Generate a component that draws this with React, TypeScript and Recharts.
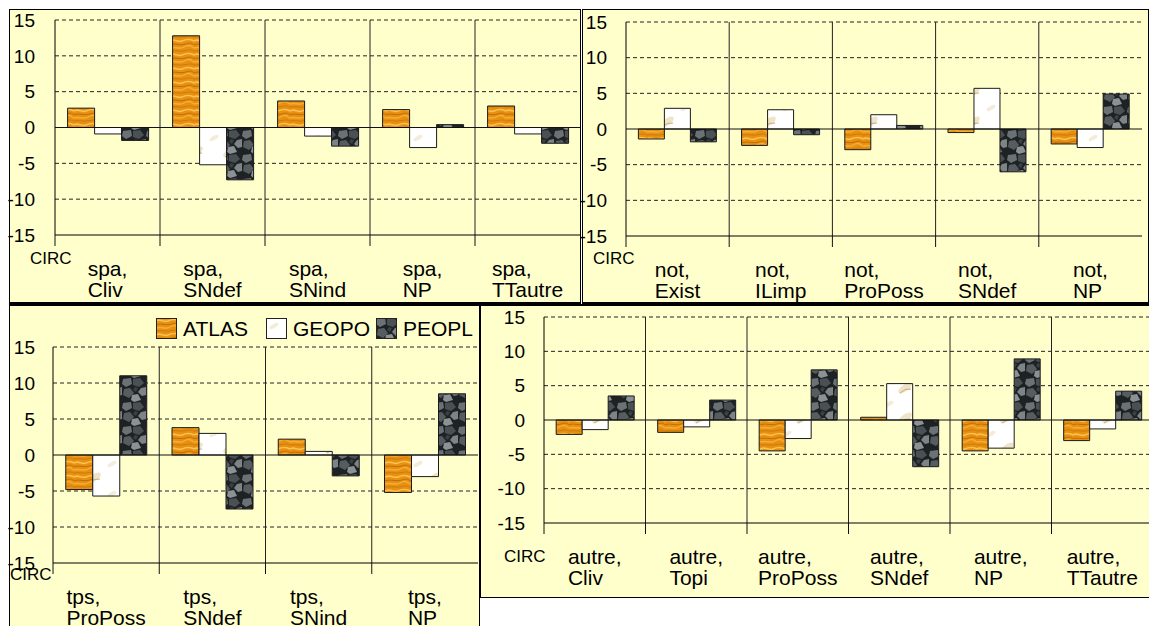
import { Bar, BarChart, CartesianGrid, Legend, ReferenceLine, XAxis, YAxis } from 'recharts';

// --- data ---
const SERIES = ['ATLAS', 'GEOPO', 'PEOPL'];
const Y_TICKS = [-15, -10, -5, 0, 5, 10, 15];
const GRID_VALUES = [15, 10, 5, -5, -10];

const spaCats = ['spa, Cliv', 'spa, SNdef', 'spa, SNind', 'spa, NP', 'spa, TTautre'];
const spaAtlas = [2.7, 12.8, 3.7, 2.5, 3.0];
const spaGeopo = [-0.9, -5.2, -1.2, -2.8, -0.9];
const spaPeopl = [-1.8, -7.3, -2.6, 0.4, -2.2];

const notCats = ['not, Exist', 'not, ILimp', 'not, ProPoss', 'not, SNdef', 'not, NP'];
const notAtlas = [-1.4, -2.3, -2.9, -0.5, -2.1];
const notGeopo = [2.9, 2.7, 2.0, 5.7, -2.6];
const notPeopl = [-1.8, -0.8, 0.5, -6.0, 4.9];

const tpsCats = ['tps, ProPoss', 'tps, SNdef', 'tps, SNind', 'tps, NP'];
const tpsAtlas = [-4.8, 3.8, 2.2, -5.2];
const tpsGeopo = [-5.7, 3.0, 0.5, -3.0];
const tpsPeopl = [11.0, -7.5, -2.9, 8.5];

const autreCats = ['autre, Cliv', 'autre, Topi', 'autre, ProPoss', 'autre, SNdef', 'autre, NP', 'autre, TTautre'];
const autreAtlas = [-2.1, -1.8, -4.5, 0.4, -4.5, -3.0];
const autreGeopo = [-1.4, -1.0, -2.7, 5.3, -4.1, -1.3];
const autrePeopl = [3.5, 2.9, 7.3, -6.8, 8.9, 4.2];

const FONT = '"Liberation Sans", Arial, sans-serif';
const BG = '#ffffcc';
const PAD = 8; // room left of the y labels so nothing gets clipped
const TEX: Record<string, string> = { ATLAS: 'url(#tex-atlas)', GEOPO: 'url(#tex-geopo)', PEOPL: 'url(#tex-peopl)' };

let ctx: CanvasRenderingContext2D | null = null;
const textWidth = (s: string) => {
  if (!ctx) ctx = document.createElement('canvas').getContext('2d');
  if (!ctx) return s.length * 11;
  ctx.font = `21px ${FONT}`;
  return ctx.measureText(s).width;
};

const toRows = (cats: string[], a: number[], g: number[], p: number[]) =>
  cats.map((cat, i) => ({ cat, ATLAS: a[i], GEOPO: g[i], PEOPL: p[i] }));

// fill textures for the three series (orange wood, white marble, dark stones)
const Textures = () => (
  <svg width={0} height={0} style={{ position: 'absolute' }}>
    <defs>
      <pattern id='tex-atlas' patternUnits='userSpaceOnUse' width={24} height={14}>
        <rect width={24} height={14} fill='#e8900f' />
        <path d='M0 3 C4 0 8 5 12 3 S20 1 24 3' stroke='#fbc04f' strokeWidth={1.6} fill='none' />
        <path d='M0 10 C5 8 9 12 14 9 S21 8 24 10' stroke='#f5ae38' strokeWidth={1.4} fill='none' />
        <path d='M0 6.5 C6 5 10 8 16 6 S22 6 24 6.5' stroke='#b5650a' strokeWidth={0.8} fill='none' />
        <path d='M0 13 C6 12 10 14 16 12.5 S22 13 24 13' stroke='#c06f0c' strokeWidth={0.7} fill='none' />
      </pattern>
      <pattern id='tex-geopo' patternUnits='userSpaceOnUse' width={34} height={30}>
        <rect width={34} height={30} fill='#ffffff' />
        <ellipse cx={24} cy={22} rx={8} ry={3.5} fill='#efe4c8' transform='rotate(-35 24 22)' />
        <ellipse cx={8} cy={8} rx={5} ry={2} fill='#f4ecd8' transform='rotate(-30 8 8)' />
        <path d='M19 27 Q24 22 30 23' stroke='#c9aa74' strokeWidth={1} fill='none' />
      </pattern>
      <pattern id='tex-peopl' patternUnits='userSpaceOnUse' width={24} height={24}>
        <rect width={24} height={24} fill='#1f2223' />
        <polygon points='1,1 9,0 10,6 4,9 0,6' fill='#6a7276' />
        <polygon points='11,1 18,0 22,5 17,9 11,7' fill='#4a5154' />
        <polygon points='19,10 24,9 24,17 20,18 16,14' fill='#7c8488' />
        <polygon points='2,11 8,10 12,15 7,20 1,17' fill='#565d61' />
        <polygon points='10,17 16,16 19,22 12,24 9,22' fill='#8a9296' />
        <polygon points='13,9 16,10 14,14 11,12' fill='#3a4044' />
      </pattern>
    </defs>
  </svg>
);

const CategoryTick = ({ x, y, payload, step }: any) => {
  const [head, tail] = String(payload.value).split(', ');
  const l1 = `${head},`;
  const w = Math.max(textWidth(l1), textWidth(tail));
  const left = x - w / 2;
  const bx = x - step / 2;
  return (
    <g>
      <line x1={bx} x2={bx} y1={y} y2={y + 11} stroke='#111' />
      <text x={left} y={y + 41} fontSize={21} fontFamily={FONT} fill='#000'>{l1}</text>
      <text x={left} y={y + 62} fontSize={21} fontFamily={FONT} fill='#000'>{tail}</text>
    </g>
  );
};

const LegendBox = () => (
  <div style={{ display: 'flex', fontFamily: FONT, fontSize: 21, lineHeight: '20px' }}>
    {SERIES.map((s) => (
      <div key={s} style={{ width: 110, display: 'flex', alignItems: 'center' }}>
        <svg width={21} height={21} style={{ marginRight: 6 }}>
          <rect x={0.5} y={0.5} width={20} height={20} fill={TEX[s]} stroke='#222' />
        </svg>
        <span>{s}</span>
      </div>
    ))}
  </div>
);

interface PanelProps {
  cats: string[];
  atlas: number[];
  geopo: number[];
  peopl: number[];
  box: { left: number; top: number; width: number; height: number };
  chart: { width: number; height: number; top: number; right: number; yWidth: number; xHeight: number; tickGap: number };
  circ: { x: number; y: number };
  borders: React.CSSProperties;
  legend?: boolean;
}

const Panel = ({ cats, atlas, geopo, peopl, box, chart, circ, borders, legend }: PanelProps) => {
  const data = toRows(cats, atlas, geopo, peopl);
  const plotW = chart.width - chart.yWidth - chart.right;
  const step = plotW / cats.length;
  return (
    <div
      style={{
        position: 'absolute',
        boxSizing: 'border-box',
        background: BG,
        border: '1px solid #000',
        ...borders,
        ...box,
      }}
    >
      <div style={{ position: 'absolute', left: -PAD, top: 0 }}>
        <BarChart
          width={chart.width + PAD}
          height={chart.height}
          data={data}
          margin={{ top: chart.top, right: chart.right, bottom: 0, left: 0 }}
          barCategoryGap='12%'
          barGap={0}
        >
          {/* dashed lines only between the solid zero line and solid axis */}
          <CartesianGrid
            vertical={false}
            stroke='#222'
            strokeDasharray='4 3'
            horizontalCoordinatesGenerator={({ offset }: any) =>
              GRID_VALUES.map((v) => offset.top + ((15 - v) / 30) * offset.height)
            }
          />
          <CartesianGrid
            horizontal={false}
            stroke='#222'
            verticalCoordinatesGenerator={({ offset }: any) =>
              cats.slice(1).map((_, i) => offset.left + (i + 1) * (offset.width / cats.length))
            }
          />
          <ReferenceLine y={0} stroke='#111' />
          <XAxis
            dataKey='cat'
            height={chart.xHeight}
            interval={0}
            tickSize={0}
            tickMargin={0}
            tickLine={false}
            axisLine={{ stroke: '#000' }}
            tick={<CategoryTick step={step} />}
          />
          <YAxis
            width={chart.yWidth + PAD}
            domain={[-15, 15]}
            ticks={Y_TICKS}
            interval={0}
            tickLine={false}
            tickSize={0}
            tickMargin={chart.tickGap}
            axisLine={{ stroke: '#000' }}
            tick={{ fill: '#000', fontSize: 19, fontFamily: FONT }}
          />
          {SERIES.map((s) => (
            <Bar key={s} dataKey={s} name={s} fill={TEX[s]} stroke='#1a1a1a' strokeWidth={1} isAnimationActive={false} />
          ))}
          {legend && (
            <Legend
              layout='horizontal'
              verticalAlign='middle'
              align='center'
              content={<LegendBox />}
              wrapperStyle={{ left: 146 + PAD, top: 12, width: 340 }}
            />
          )}
        </BarChart>
      </div>
      <span
        style={{
          position: 'absolute',
          left: circ.x,
          top: circ.y - 15,
          fontFamily: FONT,
          fontSize: 17,
          lineHeight: '17px',
          color: '#000',
        }}
      >
        CIRC
      </span>
    </div>
  );
};

export default function App() {
  return (
    <div style={{ position: 'absolute', left: 0, top: 0, width: 1149, height: 626, overflow: 'hidden', background: '#fff' }}>
      <Textures />
      <Panel
        cats={spaCats}
        atlas={spaAtlas}
        geopo={spaGeopo}
        peopl={spaPeopl}
        box={{ left: 9, top: 9, width: 572, height: 295 }}
        borders={{ borderBottomWidth: 2 }}
        chart={{ width: 570, height: 292, top: 10, right: 0, yWidth: 45, xHeight: 67, tickGap: 20 }}
        circ={{ x: 20, y: 255 }}
      />
      <Panel
        cats={notCats}
        atlas={notAtlas}
        geopo={notGeopo}
        peopl={notPeopl}
        box={{ left: 582, top: 9, width: 567, height: 295 }}
        borders={{ borderBottomWidth: 2 }}
        chart={{ width: 565, height: 292, top: 12, right: 6, yWidth: 43, xHeight: 66, tickGap: 19 }}
        circ={{ x: 10, y: 255 }}
      />
      <Panel
        cats={tpsCats}
        atlas={tpsAtlas}
        geopo={tpsGeopo}
        peopl={tpsPeopl}
        box={{ left: 9, top: 304, width: 471, height: 330 }}
        borders={{ borderTopWidth: 2 }}
        chart={{ width: 469, height: 320, top: 41, right: 1, yWidth: 43, xHeight: 63, tickGap: 18 }}
        circ={{ x: 0, y: 275 }}
        legend
      />
      <Panel
        cats={autreCats}
        atlas={autreAtlas}
        geopo={autreGeopo}
        peopl={autrePeopl}
        box={{ left: 480, top: 304, width: 690, height: 294 }}
        borders={{ borderTopWidth: 2 }}
        chart={{ width: 688, height: 291, top: 11, right: 16, yWidth: 63, xHeight: 74, tickGap: 19 }}
        circ={{ x: 23, y: 257 }}
      />
    </div>
  );
}
